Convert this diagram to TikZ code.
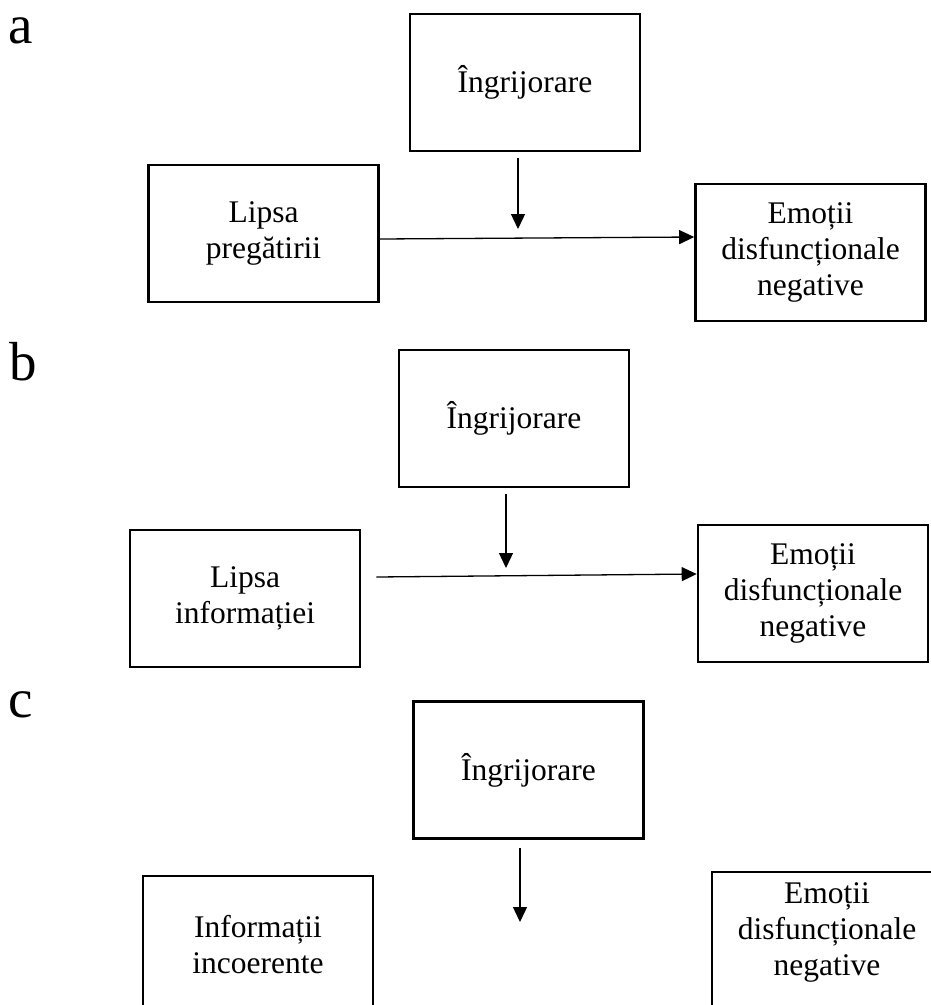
\documentclass[tikz,border=0pt]{standalone}
\usepackage{fontspec}
\setmainfont{Liberation Serif}
\usetikzlibrary{arrows.meta}
\begin{document}
\begin{tikzpicture}[x=1pt,y=-1pt,
  box/.style={draw, line width=2.6pt, minimum width=230pt, minimum height=137pt,
    inner sep=0pt, align=center, font=\fontsize{31.5}{36}\selectfont},
  boxtext/.style={inner sep=0pt, align=center, font=\fontsize{31.5}{36}\selectfont},
  lbl/.style={font=\fontsize{55}{60}\selectfont, anchor=base west, inner sep=0pt},
  arr/.style={line width=1.3pt, -{Triangle[length=15pt,width=14pt]}}]
\clip (0,0) rectangle (931,1005);
\fill[white] (0,0) rectangle (931,1005);

% panel a
\node[lbl] (la) at (8,43) {a};
\node[box] (Ia) at (525,82.5) {Îngrijorare};
\node[box] (Lp) at (263.5,233.5) {Lipsa\\pregătirii};
\node[box] (Ea) at (810.5,252.5) {Emoții\\disfuncționale\\negative};
\coordinate (ta) at (518,229);
\draw[arr] ([xshift=-7pt,yshift=-6pt]Ia.south) -- (ta);
\draw[arr] ([yshift=-5.5pt]Lp.east) -- ([yshift=15.5pt]Ea.west);

% panel b
\node[lbl] (lb) at (9,380) {b};
\node[box] (Ib) at (514,418.5) {Îngrijorare};
\node[box] (Li) at (245,598.5) {Lipsa\\informației};
\node[box] (Eb) at (813,593.5) {Emoții\\disfuncționale\\negative};
\coordinate (tb) at (506,568);
\draw[arr] ([xshift=-8pt,yshift=-6pt]Ib.south) -- (tb);
\draw[arr] ([xshift=15pt,yshift=21.5pt]Li.east) -- ([yshift=19.5pt]Eb.west);

% panel c
\node[lbl] (lc) at (8,717) {c};
\node[box] (Ic) at (528.5,770) {Îngrijorare};
\node[box] (Inc) at (258,944.5) {Informații\\incoerente};
\node[box] (Ec) at (827,940.5) {};
\node[boxtext] (Ect) at (827,932) {Emoții\\disfuncționale\\negative};
\coordinate (tc) at (520,922);
\draw[arr] ([xshift=-8.5pt,yshift=-8.5pt]Ic.south) -- (tc);
\end{tikzpicture}
\end{document}
